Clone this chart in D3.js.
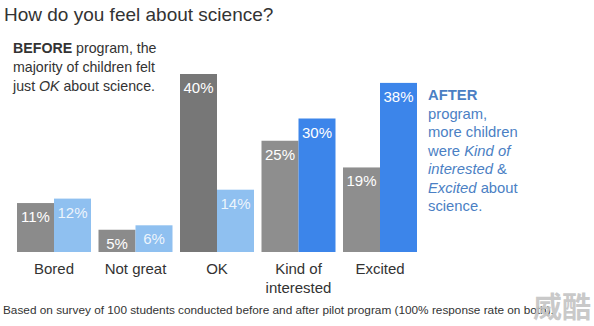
<!DOCTYPE html>
<html><head><meta charset="utf-8">
<script src="https://cdn.jsdelivr.net/npm/d3@7"></script>
<style>body{margin:0;background:#fff}svg{display:block;font-family:"Liberation Sans",Arial,sans-serif}</style>
</head><body><svg id="c" width="594" height="326"></svg>
<script>
const categories = ["Bored","Not great","OK","Kind of\ninterested","Excited"];
const before = [11,5,40,25,19];
const after = [12,6,14,30,38];
const beforeColors = ["#8b8b8b","#8b8b8b","#777777","#8e8e8e","#8e8e8e"];
const afterColors = ["#8fc0f0","#8fc0f0","#8fc0f0","#3c85ea","#3c85ea"];
const title = "How do you feel about science?";
const footnote = "Based on survey of 100 students conducted before and after pilot program (100% response rate on both).";

const svg = d3.select("#c");
const x = d3.scaleBand().domain(categories).range([17,417]).paddingInner(0.092).paddingOuter(0);
const sub = d3.scaleBand().domain(["before","after"]).range([0,x.bandwidth()]);
const y = d3.scaleLinear().domain([0,40]).range([252,74]);

const rows = categories.map((c,i)=>[{c,k:"before",v:before[i],col:beforeColors[i]},{c,k:"after",v:after[i],col:afterColors[i]}]).flat();

const g = svg.append("g");
g.selectAll("rect").data(rows).join("rect")
  .attr("x",d=>x(d.c)+sub(d.k)).attr("width",sub.bandwidth())
  .attr("y",d=>y(d.v)).attr("height",d=>y(0)-y(d.v)).attr("fill",d=>d.col);
g.selectAll("text.v").data(rows).join("text").attr("class","v")
  .attr("x",d=>x(d.c)+sub(d.k)+sub.bandwidth()/2).attr("y",d=>y(d.v)+19)
  .attr("text-anchor","middle").attr("fill","#fff").attr("font-size",15)
  .attr("fill-opacity",d=>d.col==="#8fc0f0"?0.85:1)
  .text(d=>d.v+"%");

// category axis labels
const ax = svg.append("g");
categories.forEach(c=>{
  const t = ax.append("text").attr("x",x(c)+x.bandwidth()/2).attr("y",274)
    .attr("text-anchor","middle").attr("font-size",15).attr("fill","#333");
  c.split("\n").forEach((l,j)=>t.append("tspan").attr("x",x(c)+x.bandwidth()/2).attr("dy",j?19:0).text(l));
});

svg.append("text").attr("x",4).attr("y",21).attr("font-size",19).attr("fill","#333").text(title);

const left = svg.append("text").attr("x",13).attr("y",53).attr("font-size",14.2).attr("fill","#333");
left.append("tspan").attr("font-weight","bold").text("BEFORE");
left.append("tspan").text(" program, the");
left.append("tspan").attr("x",13).attr("dy",19).text("majority of children felt");
left.append("tspan").attr("x",13).attr("dy",19).text("just ");
left.append("tspan").attr("font-style","italic").text("OK");
left.append("tspan").text(" about science.");

const blue = "#4b7fc4";
const right = svg.append("text").attr("x",428).attr("y",100).attr("font-size",14.8).attr("fill",blue);
right.append("tspan").attr("font-weight","bold").text("AFTER");
right.append("tspan").attr("x",428).attr("dy",18.5).text("program,");
right.append("tspan").attr("x",428).attr("dy",18.5).text("more children");
right.append("tspan").attr("x",428).attr("dy",18.5).text("were ");
right.append("tspan").attr("font-style","italic").text("Kind of");
right.append("tspan").attr("x",428).attr("dy",18.5).attr("font-style","italic").text("interested");
right.append("tspan").text(" &");
right.append("tspan").attr("x",428).attr("dy",18.5).attr("font-style","italic").text("Excited");
right.append("tspan").text(" about");
right.append("tspan").attr("x",428).attr("dy",18.5).text("science.");

svg.append("text").attr("x",3).attr("y",314).attr("font-size",11.8).attr("fill","#333").text(footnote);
svg.append("text").attr("x",533).attr("y",318).attr("font-size",29).attr("font-weight","bold")
  .attr("font-family","Noto Sans CJK SC").attr("fill","#c4c4c4").attr("fill-opacity",0.92).text("威酷");
</script></body></html>
